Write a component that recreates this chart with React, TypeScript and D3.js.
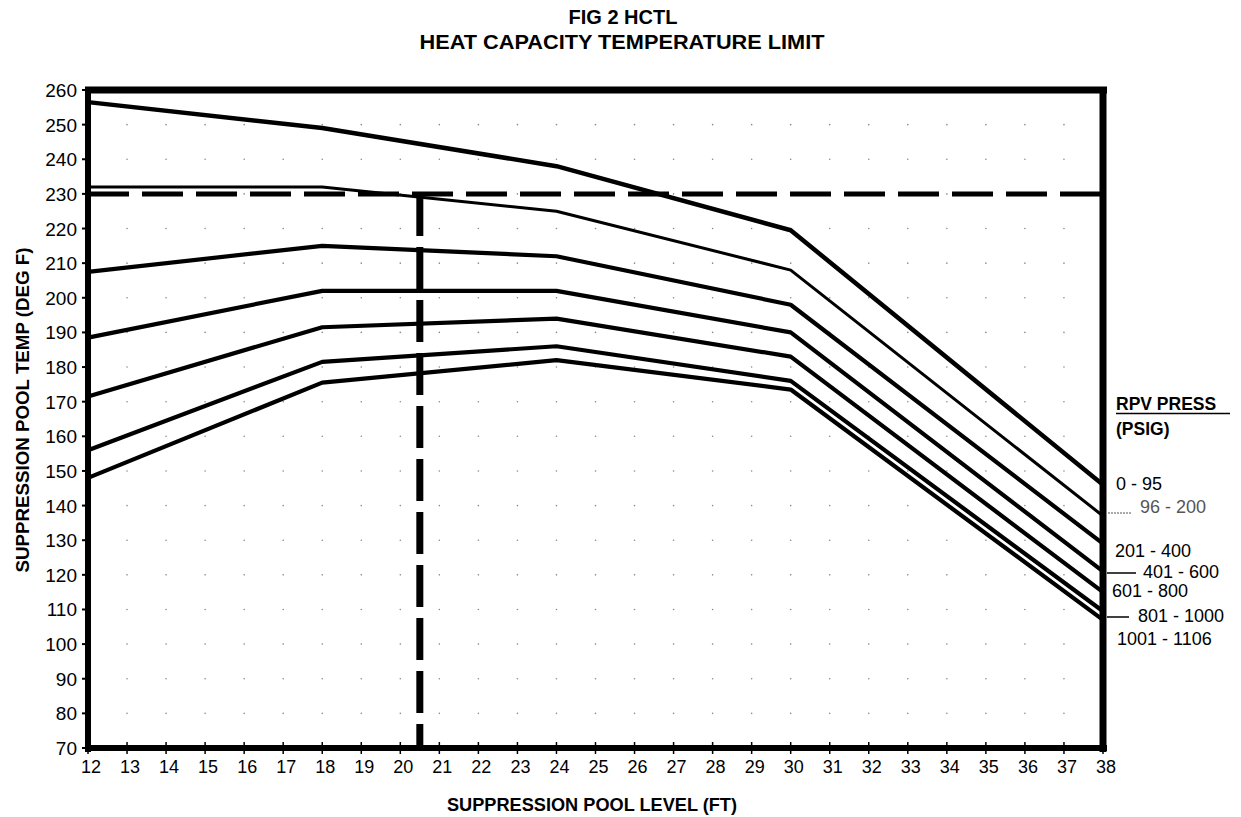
import React from 'react';
import * as d3 from 'd3';

// Pool level (ft) break points of every curve
const levels = [12, 18, 24, 30, 38];
// RPV pressure bands (psig)
const bands = ['0 - 95', '96 - 200', '201 - 400', '401 - 600', '601 - 800', '801 - 1000', '1001 - 1106'];
// Suppression pool temperature limit (deg F) for each band at each level
const temp0to95 = [256.5, 249, 238, 219.5, 146];
const temp96to200 = [232, 232, 225, 208, 137];
const temp201to400 = [207.5, 215, 212, 198, 129];
const temp401to600 = [188.5, 202, 202, 190, 121];
const temp601to800 = [171.5, 191.5, 194, 183, 115];
const temp801to1000 = [156, 181.5, 186, 176, 109.5];
const temp1001to1106 = [148, 175.5, 182, 173.5, 107];
const allSeries = [temp0to95, temp96to200, temp201to400, temp401to600, temp601to800, temp801to1000, temp1001to1106];
// Example reference lines
const limitTemp = 230;
const limitLevel = 20.5;
// Tick labels
const xTicks = d3.range(12, 39);
const yTicks = d3.range(70, 261, 10);

const W = 1241;
const H = 817;
const FONT = '"Liberation Sans", Arial, sans-serif';

export default function App() {
  const x = d3.scaleLinear().domain([12, 38]).range([88, 1103]);
  const y = d3.scaleLinear().domain([70, 260]).range([748, 90]);
  const line = d3
    .line<number>()
    .x((_, i) => x(levels[i]))
    .y((d) => y(d));

  const strokeW = [4.5, 3, 4.2, 4.2, 4.2, 4.2, 4.2];

  // label layout: [x, baseline, leader start, leader end, leader y, color]
  const labelLayout: [number, number, number | null, number | null, number | null, string][] = [
    [1116, 490, null, null, null, '#000'],
    [1140, 513, 1108, 1131, 513, '#555'],
    [1115, 557, null, null, null, '#000'],
    [1143, 578, 1107, 1136, 573, '#000'],
    [1112, 597, null, null, null, '#000'],
    [1138, 622, 1107, 1129, 617, '#000'],
    [1117, 645, null, null, null, '#000'],
  ];

  const dots: [number, number][] = [];
  for (let xv = 13; xv <= 37; xv++) {
    for (let yv = 80; yv <= 250; yv += 10) dots.push([xv, yv]);
  }

  return (
    <svg width={W} height={H} style={{ position: 'absolute', left: 0, top: 0, background: '#fff' }} fontFamily={FONT}>
      <rect width={W} height={H} fill="#fff" />
      {/* Title */}
      <text x={623} y={24} textAnchor="middle" fontWeight="bold" fontSize={20}>FIG 2 HCTL</text>
      <text x={622} y={49} textAnchor="middle" fontWeight="bold" fontSize={20} textLength={405} lengthAdjust="spacingAndGlyphs">HEAT CAPACITY TEMPERATURE LIMIT</text>

      {/* grid dots */}
      {dots.map(([a, b], i) => (
        <circle key={i} cx={x(a)} cy={y(b)} r={0.8} fill="#888" />
      ))}

      {/* dashed reference lines */}
      <line x1={x(12)} x2={x(38)} y1={y(limitTemp)} y2={y(limitTemp)} stroke="#000" strokeWidth={5} strokeDasharray="41 13" />
      <line x1={x(limitLevel)} x2={x(limitLevel)} y1={y(limitTemp)} y2={y(70)} stroke="#000" strokeWidth={7} strokeDasharray="42 11" />

      {/* curves */}
      {allSeries.map((s, i) => (
        <path key={bands[i]} d={line(s) || ''} fill="none" stroke="#000" strokeWidth={strokeW[i]} strokeLinejoin="round" />
      ))}

      {/* frame */}
      <line x1={85} x2={1107} y1={y(260)} y2={y(260)} stroke="#000" strokeWidth={7} />
      <line x1={1103} x2={1103} y1={87} y2={752} stroke="#000" strokeWidth={7} />
      <line x1={85} x2={1107} y1={y(70)} y2={y(70)} stroke="#000" strokeWidth={6} />
      <line x1={88} x2={88} y1={87} y2={752} stroke="#000" strokeWidth={6} />

      {/* y ticks */}
      {yTicks.map((t) => (
        <g key={t}>
          <line x1={82} x2={88} y1={y(t)} y2={y(t)} stroke="#000" strokeWidth={2} />
          <text x={77} y={y(t) + 7} textAnchor="end" fontSize={19}>{t}</text>
        </g>
      ))}

      {/* x ticks */}
      {xTicks.map((t) => (
        <g key={t}>
          <line x1={x(t)} x2={x(t)} y1={742} y2={754} stroke="#000" strokeWidth={1.5} />
          <text x={x(t) + 3} y={773} textAnchor="middle" fontSize={18}>{t}</text>
        </g>
      ))}

      {/* axis titles */}
      <text x={592} y={811} textAnchor="middle" fontWeight="bold" fontSize={18} textLength={290} lengthAdjust="spacingAndGlyphs">SUPPRESSION POOL LEVEL (FT)</text>
      <text transform="translate(29,410) rotate(-90)" textAnchor="middle" fontWeight="bold" fontSize={18} textLength={325} lengthAdjust="spacingAndGlyphs">SUPPRESSION POOL TEMP (DEG F)</text>

      {/* legend */}
      <text x={1116} y={410} fontWeight="bold" fontSize={17.5}>RPV PRESS</text>
      <line x1={1116} x2={1230} y1={413.5} y2={413.5} stroke="#000" strokeWidth={1.5} />
      <text x={1116} y={435} fontWeight="bold" fontSize={17.5}>(PSIG)</text>
      {bands.map((b, i) => {
        const [lx, ly, l1, l2, lyy, col] = labelLayout[i];
        return (
          <g key={b}>
            {l1 !== null && (
              <line x1={l1} x2={l2!} y1={lyy!} y2={lyy!} stroke={col} strokeWidth={i === 1 ? 1 : 1.5} strokeDasharray={i === 1 ? '2 1' : undefined} />
            )}
            <text x={lx} y={ly} fontSize={18} fill={col}>{b}</text>
          </g>
        );
      })}
    </svg>
  );
}
